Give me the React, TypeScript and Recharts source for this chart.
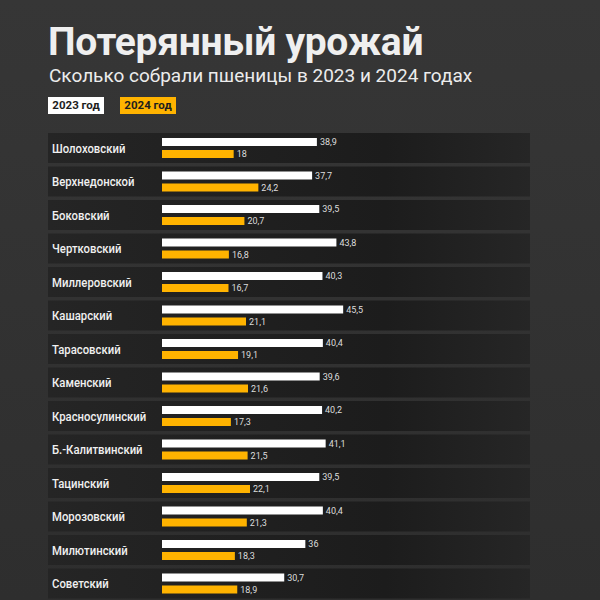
import React from 'react';
import { BarChart, Bar, XAxis, YAxis, LabelList } from 'recharts';

const districts = [
  'Шолоховский',
  'Верхнедонской',
  'Боковский',
  'Чертковский',
  'Миллеровский',
  'Кашарский',
  'Тарасовский',
  'Каменский',
  'Красносулинский',
  'Б.-Калитвинский',
  'Тацинский',
  'Морозовский',
  'Милютинский',
  'Советский',
];

const harvest2023 = [38.9, 37.7, 39.5, 43.8, 40.3, 45.5, 40.4, 39.6, 40.2, 41.1, 39.5, 40.4, 36, 30.7];
const harvest2024 = [18, 24.2, 20.7, 16.8, 16.7, 21.1, 19.1, 21.6, 17.3, 21.5, 22.1, 21.3, 18.3, 18.9];

const chartData = districts.map((name, i) => ({
  name,
  y2023: harvest2023[i],
  y2024: harvest2024[i],
}));

const ORANGE = '#ffb300';
const FONT = 'Roboto, "Noto Sans", sans-serif';

const fmt = (v: any) => String(v).replace('.', ',');

// dark row band, hung off the 2023 bar slot so it sits under the bars
const RowBand = (props: any) => {
  const { y, index } = props;
  return <rect key={`band-${index}`} x={48} y={y - 5} width={482} height={30} fill="url(#rowBg)" />;
};

// district name, squeezed a bit to look like the condensed face of the original
const RowTick = (props: any) => {
  const { y, payload } = props;
  return (
    <g transform={`translate(52 ${y}) scale(0.84 1)`}>
      <text x={0} y={0} dy={5} fill="#f0f0f0" fontSize={13.5} fontWeight={500} fontFamily={FONT}>
        {payload.value}
      </text>
    </g>
  );
};

const legendBox = (bg: string): React.CSSProperties => ({
  position: 'absolute',
  top: 97,
  width: 56,
  height: 17,
  background: bg,
  color: '#1e1e1e',
  fontSize: 11.5,
  fontWeight: 700,
  lineHeight: '17px',
  textAlign: 'center',
  fontFamily: FONT,
});

export default function App() {
  return (
    <div
      style={{
        position: 'absolute',
        top: 0,
        left: 0,
        width: 600,
        height: 600,
        overflow: 'hidden',
        background: 'linear-gradient(180deg, #363636 0%, #2e2e2e 100%)',
        fontFamily: FONT,
      }}
    >
      <div
        style={{
          position: 'absolute',
          left: 48,
          top: 19,
          fontSize: 39,
          fontWeight: 700,
          color: '#efefef',
          letterSpacing: -0.3,
          whiteSpace: 'nowrap',
        }}
      >
        Потерянный урожай
      </div>
      <div
        style={{
          position: 'absolute',
          left: 49,
          top: 64,
          fontSize: 19,
          color: '#ececec',
          whiteSpace: 'nowrap',
        }}
      >
        Сколько собрали пшеницы в 2023 и 2024 годах
      </div>
      <div style={{ ...legendBox('#ffffff'), left: 48 }}>2023 год</div>
      <div style={{ ...legendBox(ORANGE), left: 120 }}>2024 год</div>

      <div style={{ position: 'absolute', top: 131, left: 0 }}>
        <BarChart
          width={600}
          height={469}
          data={chartData}
          layout="vertical"
          margin={{ top: 0, right: 0, bottom: 0, left: 0 }}
          barSize={8}
          barGap={4}
        >
          <defs>
            <linearGradient id="rowBg" x1="0" y1="0" x2="1" y2="0">
              <stop offset="0%" stopColor="#252525" />
              <stop offset="70%" stopColor="#1c1c1c" />
              <stop offset="100%" stopColor="#262626" />
            </linearGradient>
          </defs>
          <YAxis
            type="category"
            dataKey="name"
            width={162}
            tickLine={false}
            axisLine={false}
            tick={<RowTick />}
            interval={0}
          />
          <XAxis type="number" domain={[0, 110]} hide />
          <Bar dataKey="y2023" fill="#ffffff" isAnimationActive={false} background={RowBand}>
            <LabelList
              dataKey="y2023"
              position="right"
              offset={3}
              fill="#dddddd"
              fontSize={9}
              fontFamily={FONT}
              formatter={fmt}
            />
          </Bar>
          <Bar dataKey="y2024" fill={ORANGE} isAnimationActive={false}>
            <LabelList
              dataKey="y2024"
              position="right"
              offset={3}
              fill="#dddddd"
              fontSize={9}
              fontFamily={FONT}
              formatter={fmt}
            />
          </Bar>
        </BarChart>
      </div>
    </div>
  );
}
